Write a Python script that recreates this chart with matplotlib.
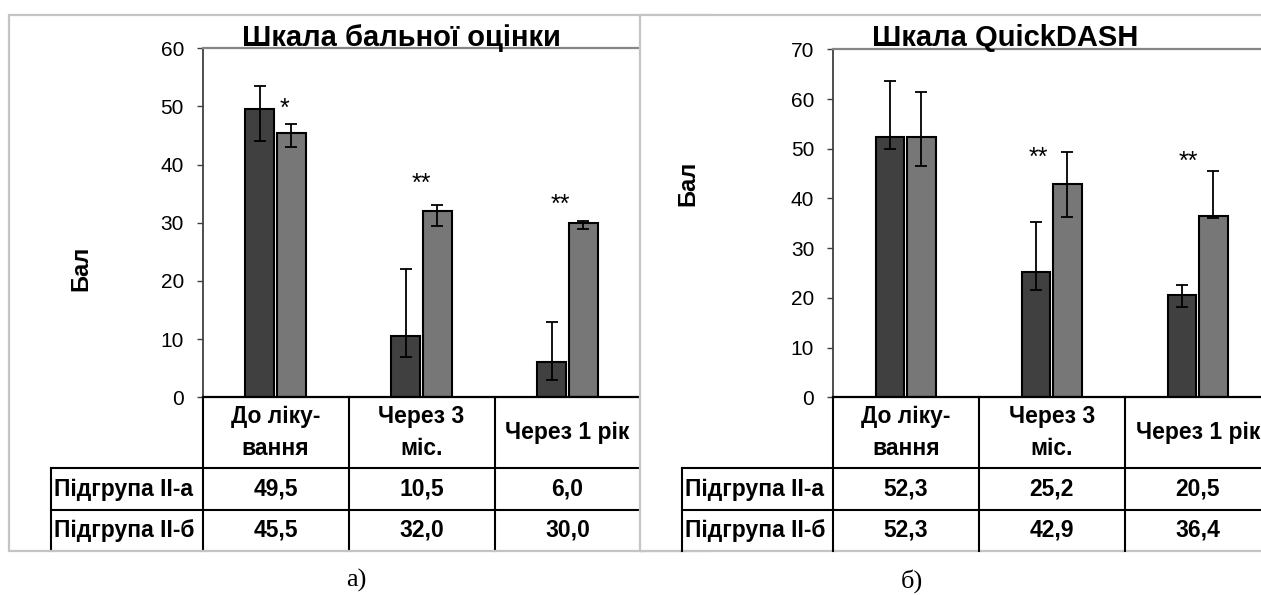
import matplotlib
matplotlib.use("Agg")
import matplotlib.pyplot as plt
import matplotlib.transforms as mtransforms
from matplotlib.lines import Line2D
from matplotlib.patches import Rectangle
import numpy as np

# ---------------- data ----------------
categories = ["До ліку-\nвання", "Через 3\nміс.", "Через 1 рік"]
series_names = ["Підгрупа II-а", "Підгрупа II-б"]

# Panel а) — Шкала бальної оцінки
score_a = [49.5, 10.5, 6.0]
score_b = [45.5, 32.0, 30.0]
score_a_low = [44.0, 7.0, 3.0]
score_a_high = [53.5, 22.0, 13.0]
score_b_low = [43.0, 29.5, 29.0]
score_b_high = [47.0, 33.0, 30.3]
score_stars = ["*", "**", "**"]

# Panel б) — Шкала QuickDASH
dash_a = [52.3, 25.2, 20.5]
dash_b = [52.3, 42.9, 36.4]
dash_a_low = [50.0, 21.6, 18.2]
dash_a_high = [63.6, 35.2, 22.6]
dash_b_low = [46.6, 36.3, 36.0]
dash_b_high = [61.4, 49.3, 45.5]
dash_stars = ["", "**", "**"]

# ---------------- layout ----------------
W, H = 1261, 595
fig = plt.figure(figsize=(W / 100, H / 100), dpi=100)


def fx(px):
    return px / W


def fy(py):
    return 1 - py / H


SANS = "Liberation Sans"
DARK = "#404040"
LIGHT = "#777777"
FRAME = "#c4c4c4"

Y0_PX = 397.3          # pixel row of value 0
HEAD_BOT = 468.3
ROW_LINE = 510.0
BOTTOM = 550.7


def fmt(v):
    return f"{v:.1f}".replace(".", ",")


def panel(x0_px, top_px, ymax, a, b, a_lo, a_hi, b_lo, b_hi, stars, star_pos,
          label_left_px, zorder):
    col_w = 146.0
    ax = fig.add_axes([fx(x0_px), fy(Y0_PX), fx(3 * col_w), (Y0_PX - top_px) / H])
    ax.set_zorder(zorder)
    x = np.arange(len(categories))
    off, bw = 0.108, 0.195
    ax.bar(x - off, a, width=bw, color=DARK, edgecolor="black", linewidth=1.5, zorder=2)
    ax.bar(x + off, b, width=bw, color=LIGHT, edgecolor="black", linewidth=1.5, zorder=2)
    a_arr, b_arr = np.array(a), np.array(b)
    ax.errorbar(x - off, a_arr, yerr=[a_arr - np.array(a_lo), np.array(a_hi) - a_arr],
                fmt="none", ecolor="black", elinewidth=1.3, capsize=4.5, capthick=1.3, zorder=3)
    ax.errorbar(x + off, b_arr, yerr=[b_arr - np.array(b_lo), np.array(b_hi) - b_arr],
                fmt="none", ecolor="black", elinewidth=1.3, capsize=4.5, capthick=1.3, zorder=3)
    ax.set_xlim(-0.5, 2.5)
    ax.set_ylim(0, ymax)
    ax.set_yticks(np.arange(0, ymax + 1, 10))
    ax.set_xticks([])
    ax.tick_params(axis="y", direction="out", length=4.3, width=1.0, color=DARK,
                   labelsize=15, pad=9.0)
    for lab in ax.get_yticklabels():
        lab.set_family(SANS)
    ax.spines["left"].set_color(DARK)
    ax.spines["left"].set_linewidth(1.3)
    ax.spines["top"].set_color("#868686")
    ax.spines["top"].set_linewidth(1.6)
    ax.spines["right"].set_color("#868686")
    ax.spines["right"].set_linewidth(1.6)
    ax.spines["bottom"].set_color("black")
    ax.spines["bottom"].set_linewidth(1.6)

    # stars
    for s, (sx, sy) in zip(stars, star_pos):
        if s:
            ax.text(sx, sy, s, ha="center", va="baseline", fontsize=18,
                    family=SANS, zorder=4)

    # data table below the axis
    tr = mtransforms.blended_transform_factory(ax.transData, fig.transFigure)
    xl = (label_left_px - x0_px) / col_w - 0.5
    lw = 1.5
    for xv in [-0.5, 0.5, 1.5, 2.5]:
        ax.add_line(Line2D([xv, xv], [fy(Y0_PX), fy(BOTTOM)], transform=tr,
                           color="black", lw=lw, clip_on=False))
    ax.add_line(Line2D([xl, xl], [fy(HEAD_BOT), fy(BOTTOM)], transform=tr,
                       color="black", lw=lw, clip_on=False))
    for yy in [HEAD_BOT, ROW_LINE]:
        ax.add_line(Line2D([xl, 2.5], [fy(yy), fy(yy)], transform=tr,
                           color="black", lw=lw, clip_on=False))
    head_c = (Y0_PX + HEAD_BOT) / 2
    r1_c = (HEAD_BOT + ROW_LINE) / 2
    r2_c = (ROW_LINE + BOTTOM) / 2
    for i, cat in enumerate(categories):
        ax.text(i, fy(head_c), cat, transform=tr, ha="center", va="center",
                multialignment="center", fontsize=16.5, fontweight="bold",
                family=SANS, linespacing=1.5, clip_on=False)
        ax.text(i, fy(r1_c), fmt(a[i]), transform=tr, ha="center", va="center",
                fontsize=16.5, fontweight="bold", family=SANS, clip_on=False)
        ax.text(i, fy(r2_c), fmt(b[i]), transform=tr, ha="center", va="center",
                fontsize=16.5, fontweight="bold", family=SANS, clip_on=False)
    xtxt = xl + 3 / col_w
    ax.text(xtxt, fy(r1_c), series_names[0], transform=tr, ha="left", va="center",
            fontsize=16.5, fontweight="bold", family=SANS, clip_on=False)
    ax.text(xtxt, fy(r2_c), series_names[1], transform=tr, ha="left", va="center",
            fontsize=16.5, fontweight="bold", family=SANS, clip_on=False)
    return ax


# outer frame of left panel
fig.add_artist(Rectangle((fx(9), fy(BOTTOM)), fx(700), (BOTTOM - 15) / H,
                         transform=fig.transFigure, facecolor="none",
                         edgecolor=FRAME, lw=1.6, zorder=0.5))

ax1 = panel(202.5, 48.3, 60, score_a, score_b, score_a_low, score_a_high,
            score_b_low, score_b_high, score_stars,
            [(0.064, 48.3), (1.0, 35.5), (1.95, 31.9)], 51.0, 0)

fig.text(fx(401.5), fy(46.5), "Шкала бальної оцінки", ha="center", va="baseline",
         fontsize=21, fontweight="bold", family=SANS, zorder=0.6)
fig.text(fx(81), fy(268), "Бал", rotation=90, ha="center", va="center",
         fontsize=17, fontweight="bold", family=SANS, zorder=0.6)

# right panel frame (covers overflow of left panel)
fig.add_artist(Rectangle((fx(639.6), fy(BOTTOM)), fx(700), (BOTTOM - 15) / H,
                         transform=fig.transFigure, facecolor="white",
                         edgecolor=FRAME, lw=1.6, zorder=1))

ax2 = panel(832.7, 49.3, 70, dash_a, dash_b, dash_a_low, dash_a_high,
            dash_b_low, dash_b_high, dash_stars,
            [(0, 0), (0.906, 46.8), (1.934, 46.0)], 682.0, 2)

fig.text(fx(1005.5), fy(46), "Шкала QuickDASH", ha="center", va="baseline",
         fontsize=21, fontweight="bold", family=SANS, zorder=3)
fig.text(fx(688), fy(183), "Бал", rotation=90, ha="center", va="center",
         fontsize=17, fontweight="bold", family=SANS, zorder=3)

# captions
fig.text(fx(356), fy(580), "а)", ha="center", va="center", fontsize=19,
         family="Liberation Serif", zorder=3)
fig.text(fx(911.5), fy(581), "б)", ha="center", va="center", fontsize=19,
         family="Liberation Serif", zorder=3)

fig.savefig("out.png", dpi=100, facecolor="white")
